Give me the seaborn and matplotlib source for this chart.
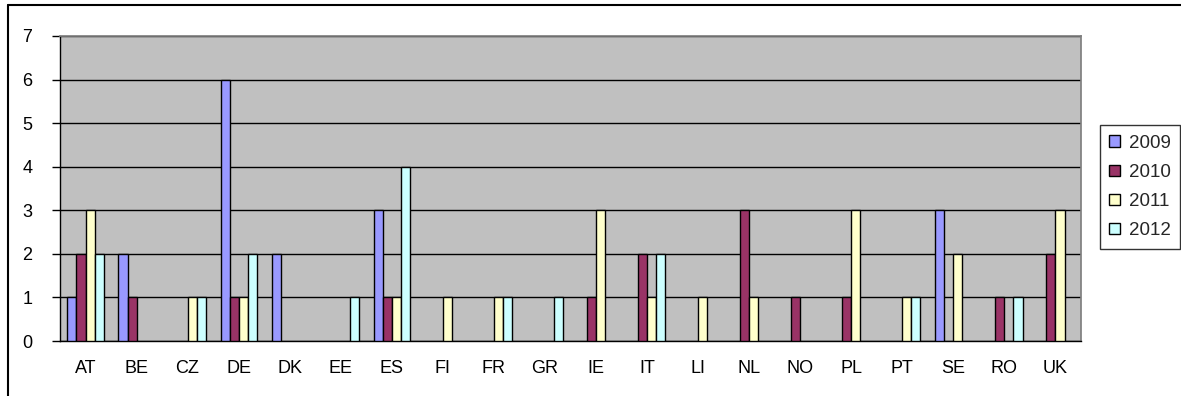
import pandas as pd
import matplotlib
matplotlib.use("Agg")
import matplotlib.pyplot as plt
from matplotlib.lines import Line2D
import seaborn as sns

# Werte aus dem Diagramm
countries = ["AT", "BE", "CZ", "DE", "DK", "EE", "ES", "FI", "FR", "GR",
             "IE", "IT", "LI", "NL", "NO", "PL", "PT", "SE", "RO", "UK"]
years = ["2009", "2010", "2011", "2012"]
v2009 = [1, 2, 0, 6, 2, 0, 3, 0, 0, 0, 0, 0, 0, 0, 0, 0, 0, 3, 0, 0]
v2010 = [2, 1, 0, 1, 0, 0, 1, 0, 0, 0, 1, 2, 0, 3, 1, 1, 0, 0, 1, 2]
v2011 = [3, 0, 1, 1, 0, 0, 1, 1, 1, 0, 3, 1, 1, 1, 0, 3, 1, 2, 0, 3]
v2012 = [2, 0, 1, 2, 0, 1, 4, 0, 1, 1, 0, 2, 0, 0, 0, 0, 1, 0, 1, 0]
colors = ["#9999FF", "#993366", "#FFFFCC", "#CCFFFF"]

rows = []
for year, vals in zip(years, [v2009, v2010, v2011, v2012]):
    for c, v in zip(countries, vals):
        rows.append({"land": c, "jahr": year, "wert": v})
df = pd.DataFrame(rows)

sns.set_theme(style="white")
plt.rcParams["font.family"] = ["Liberation Sans", "DejaVu Sans"]

W, H = 1181, 396
fig = plt.figure(figsize=(W / 100, H / 100), dpi=100)
ax = fig.add_axes([60 / W, 1 - 341 / H, (1081 - 60) / W, (341 - 36) / H])

# Rahmen um das Diagramm (nur links und oben sichtbar)
fig.add_artist(Line2D([8 / W, 8 / W], [0, 1 - 5 / H], color="black", lw=1.5))
fig.add_artist(Line2D([8 / W, 1], [1 - 5 / H, 1 - 5 / H], color="black", lw=1.5))

sns.barplot(data=df, x="land", y="wert", hue="jahr", palette=colors,
            width=0.71, edgecolor="black", linewidth=1, saturation=1,
            ax=ax, zorder=3)

# Null-Balken ausblenden
for cont in ax.containers:
    for p in cont:
        if p.get_height() == 0:
            p.set_visible(False)

ax.set_facecolor("#C0C0C0")
ax.set_ylim(0, 7)
ax.set_xlim(-0.5, len(countries) - 0.5)
ax.set_yticks(range(8))
ax.yaxis.grid(True, color="black", linewidth=1, zorder=0)
ax.set_axisbelow(True)
ax.set_xlabel("")
ax.set_ylabel("")

# Striche zwischen den Kategorien
ax.set_xticks([i + 0.5 for i in range(-1, len(countries))], minor=True)
ax.tick_params(axis="x", which="major", length=0, labelsize=13, pad=14, colors="black")
ax.tick_params(axis="x", which="minor", length=6, width=1, direction="out", color="black")
ax.tick_params(axis="y", length=6, width=1, direction="out", labelsize=13, pad=14,
               colors="black", left=True)

for side in ["left", "bottom"]:
    ax.spines[side].set_color("black")
    ax.spines[side].set_linewidth(1)
ax.spines["right"].set_color("#808080")
ax.spines["top"].set_color("#808080")

leg = ax.legend(loc="center left", bbox_to_anchor=(1.0185, 0.505), frameon=True,
                fontsize=13.5, handlelength=0.55, handleheight=0.55,
                handletextpad=0.5, labelspacing=0.65, borderpad=0.5,
                borderaxespad=0, fancybox=False, edgecolor="black")
leg.get_frame().set_linewidth(1)
for h in leg.legend_handles:
    h.set_edgecolor("black")
    h.set_linewidth(1)

fig.savefig("out.png", dpi=100)
